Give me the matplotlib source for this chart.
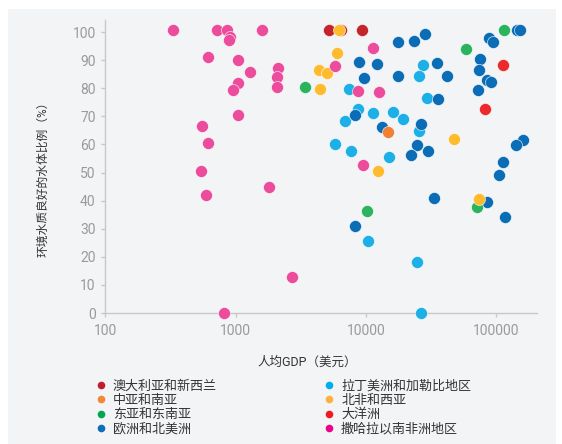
import matplotlib
matplotlib.use('Agg')
import matplotlib.pyplot as plt
from matplotlib.lines import Line2D
from matplotlib.patches import Rectangle

plt.rcParams['font.family'] = ['Roboto', 'Noto Sans CJK SC', 'DejaVu Sans']

# GDP per capita (USD) and share of water bodies with good ambient quality (%)
lam_gdp = [6870, 8680, 11300, 16000, 19300, 25600, 5750, 7630, 14900, 7360,
           27500, 25400, 29200, 10400, 24500, 26200]
lam_pct = [68.3, 72.5, 71.1, 71.5, 69.0, 64.9, 60.2, 57.7, 55.5, 79.6,
           88.1, 84.4, 76.4, 25.7, 18.3, 0]

eur_gdp = [8840, 12200, 9700, 17700, 23200, 28500, 17600, 35200, 41500, 35500,
           8280, 13200, 26300, 24500, 22100, 30100, 87500, 93800, 143500, 152000,
           74600, 73300, 85300, 90600, 71900, 161000, 141000, 112000, 105000,
           33200, 84400, 116700, 8240]
eur_pct = [89.4, 88.7, 83.7, 96.5, 96.8, 99.3, 84.2, 88.9, 84.4, 76.2,
           70.6, 66.3, 67.1, 59.8, 56.3, 57.7, 97.8, 96.3, 100.6, 100.6,
           90.5, 86.5, 82.9, 82.3, 79.4, 61.6, 59.8, 53.8, 49.1,
           41.0, 39.4, 34.1, 31.0]

eas_gdp = [3400, 10230, 58200, 114600, 70700]
eas_pct = [80.5, 36.3, 94.0, 100.6, 37.8]

anz_gdp = [5200, 6430, 9370]
anz_pct = [100.6, 100.6, 100.6]

nawa_gdp = [4340, 5050, 4410, 5990, 6240, 12400, 47400, 74100]
nawa_pct = [86.5, 85.5, 79.6, 92.6, 100.6, 50.4, 61.8, 40.5]

csa_gdp = [14800]
csa_pct = [64.3]

oce_gdp = [112000, 82400]
oce_pct = [88.3, 72.7]

ssa_gdp = [332, 722, 853, 904, 893, 1600, 613, 1036, 1280, 2100,
           2075, 2085, 1036, 948, 1042, 548, 616, 539, 592, 1790,
           2690, 809, 5810, 11300, 8630, 12500, 9430]
ssa_pct = [100.6, 100.6, 100.6, 98.3, 97.2, 100.6, 91.2, 90.0, 85.9, 87.1,
           83.9, 80.5, 81.7, 79.4, 70.6, 66.5, 60.4, 50.4, 42.1, 44.9,
           12.8, 0, 88.0, 94.2, 79.1, 78.6, 52.7]

# drawing order: later groups sit on top
groups = [
    (lam_gdp, lam_pct, '#1cb0e6'),
    (eur_gdp, eur_pct, '#0b6db5'),
    (eas_gdp, eas_pct, '#2bb35e'),
    (anz_gdp, anz_pct, '#c4242b'),
    (nawa_gdp, nawa_pct, '#fdbb2d'),
    (csa_gdp, csa_pct, '#f08038'),
    (oce_gdp, oce_pct, '#ec2a2c'),
    (ssa_gdp, ssa_pct, '#ec4c9c'),
]

# legend keys, column by column
legend_labels = ['澳大利亚和新西兰', '中亚和南亚', '东亚和东南亚', '欧洲和北美洲',
                 '拉丁美洲和加勒比地区', '北非和西亚', '大洋洲', '撒哈拉以南非洲地区']
legend_colors = ['#be1e2d', '#f58634', '#00a651', '#0e6eb8',
                 '#00aeef', '#fbb040', '#ed1c24', '#ec008c']

x_ticks = [100, 1000, 10000, 100000]
y_ticks = list(range(0, 101, 10))

BG = '#f3f4f6'
AXIS = '#c8c8c8'
TICK_TEXT = '#9a9a9a'
TEXT = '#333333'

fig = plt.figure(figsize=(5.62, 4.44), dpi=100, facecolor='white')
fig.patches.append(Rectangle((8 / 562, 0), 548 / 562, 435 / 444,
                             transform=fig.transFigure, facecolor=BG,
                             edgecolor='none', zorder=-10))

ax = fig.add_axes([0.1875, 0.295, 0.768, 0.66])
ax.set_facecolor('none')

for gdp, pct, color in groups:
    ax.scatter(gdp, pct, s=75, color=color, edgecolors='white',
               linewidths=0.4, clip_on=False, zorder=3)

ax.set_xscale('log')
ax.set_xlim(100, 205000)
ax.set_ylim(0, 104.3)
ax.set_xticks(x_ticks)
ax.set_xticklabels([str(t) for t in x_ticks])
ax.xaxis.set_minor_locator(matplotlib.ticker.NullLocator())
ax.set_yticks(y_ticks)

for side in ('top', 'right'):
    ax.spines[side].set_visible(False)
for side in ('left', 'bottom'):
    ax.spines[side].set_color(AXIS)
    ax.spines[side].set_linewidth(1)

ax.tick_params(axis='both', color=AXIS, length=3, width=1,
               labelcolor=TICK_TEXT, labelsize=10)
ax.tick_params(axis='x', pad=5)
ax.tick_params(axis='y', pad=4)

fig.text(43 / 562, 1 - 176 / 444, '环境水质良好的水体比例（%）', rotation=90,
         ha='center', va='center', fontsize=8.5, color=TEXT)
fig.text(307 / 562, 1 - 362 / 444, '人均GDP（美元）',
         ha='center', va='center', fontsize=9, color=TEXT)

handles = [Line2D([], [], linestyle='none', marker='o', markersize=5.5,
                  markerfacecolor=c, markeredgecolor='none')
           for c in legend_colors]
fig.legend(handles, legend_labels, ncol=2, loc='upper left',
           bbox_to_anchor=(96 / 562, 1 - 380 / 444), frameon=False,
           fontsize=9.4, handlelength=0.8, handletextpad=0.5,
           columnspacing=8.2, labelspacing=0.08, borderpad=0,
           borderaxespad=0, labelcolor=TEXT)

fig.savefig('out.png', dpi=100, facecolor=fig.get_facecolor())
